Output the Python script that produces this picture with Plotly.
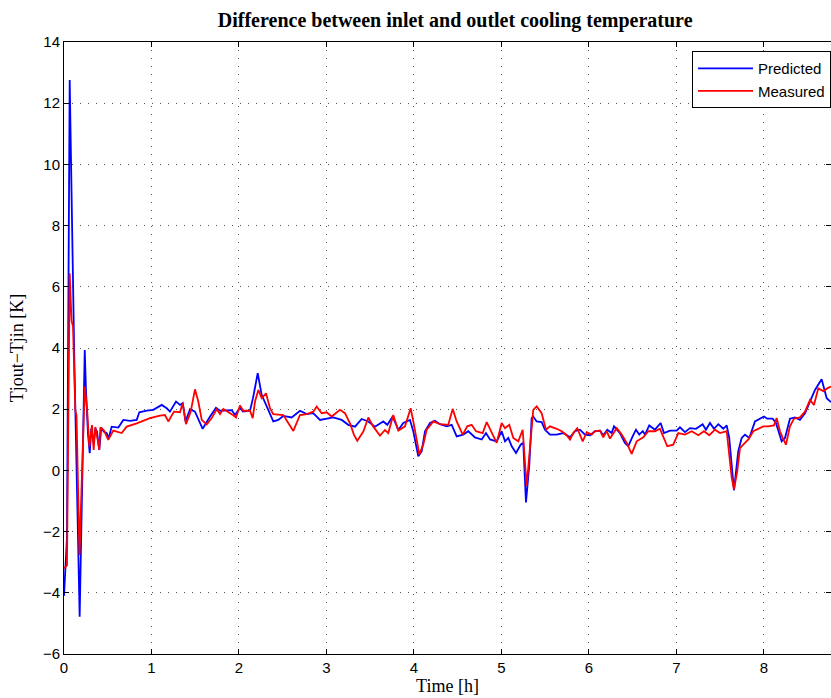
import plotly.graph_objects as go

# Predicted (blue) series: time [h], Tjout-Tjin [K]
pred_t = [0.000, 0.034, 0.065, 0.118, 0.179, 0.237, 0.251, 0.274, 0.294, 0.312, 0.339, 0.358, 0.377,
          0.403, 0.426, 0.454, 0.488, 0.511, 0.545, 0.621, 0.678, 0.754, 0.831, 0.861, 0.945, 1.021,
          1.117, 1.174, 1.211, 1.280, 1.326, 1.357, 1.389, 1.440, 1.497, 1.585, 1.669, 1.737, 1.783,
          1.917, 1.954, 2.011, 2.046, 2.126, 2.160, 2.214, 2.259, 2.317, 2.392, 2.449, 2.506, 2.602,
          2.697, 2.774, 2.849, 2.926, 3.002, 3.078, 3.174, 3.249, 3.326, 3.402, 3.478, 3.554, 3.649,
          3.695, 3.757, 3.821, 3.878, 3.954, 3.992, 4.049, 4.088, 4.126, 4.183, 4.240, 4.297, 4.374,
          4.431, 4.488, 4.563, 4.621, 4.697, 4.774, 4.823, 4.869, 4.945, 5.002, 5.040, 5.078, 5.117,
          5.166, 5.219, 5.249, 5.280, 5.318, 5.345, 5.363, 5.402, 5.459, 5.497, 5.554, 5.631, 5.706,
          5.783, 5.840, 5.897, 5.954, 6.011, 6.069, 6.126, 6.163, 6.209, 6.259, 6.286, 6.354, 6.411,
          6.449, 6.499, 6.537, 6.575, 6.614, 6.640, 6.689, 6.754, 6.819, 6.857, 6.926, 7.002, 7.040,
          7.097, 7.154, 7.223, 7.299, 7.337, 7.383, 7.429, 7.478, 7.535, 7.574, 7.603, 7.657, 7.706,
          7.745, 7.783, 7.832, 7.897, 7.962, 8.000, 8.038, 8.099, 8.137, 8.202, 8.240, 8.297, 8.354,
          8.411, 8.469, 8.526, 8.583, 8.659, 8.717, 8.766]
pred_v = [-4.10, -2.20, 12.76, 3.60, -4.78, 3.93, 2.63, 1.21, 0.56, 1.37, 0.88, 1.37, 1.27,
          0.67, 1.40, 1.27, 1.22, 1.05, 1.43, 1.40, 1.65, 1.62, 1.65, 1.90, 1.95, 1.98,
          2.14, 2.03, 1.92, 2.25, 2.14, 2.20, 1.60, 2.00, 1.92, 1.36, 1.76, 2.05, 1.95,
          1.97, 1.81, 2.05, 1.92, 1.95, 2.36, 3.18, 2.47, 2.09, 1.60, 1.65, 1.78, 1.73,
          1.95, 1.84, 1.87, 1.65, 1.68, 1.73, 1.65, 1.49, 1.43, 1.68, 1.60, 1.43, 1.60,
          1.49, 1.76, 1.32, 1.55, 1.65, 1.28, 0.46, 0.63, 1.28, 1.55, 1.62, 1.51, 1.44,
          1.49, 1.11, 1.17, 1.28, 1.08, 1.01, 1.22, 1.01, 0.95, 1.28, 0.95, 1.06, 0.79,
          0.57, 0.84, 0.90, -1.05, 0.19, 1.71, 1.76, 1.60, 1.58, 1.33, 1.17, 1.17, 1.22,
          1.08, 1.28, 1.33, 1.17, 1.15, 1.28, 1.30, 1.15, 1.33, 1.22, 1.44, 1.22, 0.90,
          0.79, 1.11, 1.33, 1.17, 1.28, 1.17, 1.47, 1.33, 1.55, 1.22, 1.30, 1.30, 1.41,
          1.25, 1.38, 1.36, 1.51, 1.33, 1.55, 1.36, 1.51, 1.36, 1.47, 1.06, -0.65, 0.63,
          1.06, 1.17, 1.06, 1.60, 1.69, 1.76, 1.69, 1.69, 1.55, 0.95, 1.06, 1.69, 1.73,
          1.65, 1.87, 2.25, 2.63, 2.98, 2.36, 2.23]

# Measured (red) series
meas_t = [0.000, 0.034, 0.065, 0.086, 0.103, 0.129, 0.143, 0.177, 0.237, 0.263, 0.289, 0.320, 0.339,
          0.358, 0.385, 0.403, 0.415, 0.454, 0.506, 0.563, 0.659, 0.717, 0.831, 0.983, 1.097, 1.154,
          1.192, 1.257, 1.326, 1.357, 1.394, 1.448, 1.497, 1.535, 1.574, 1.631, 1.688, 1.745, 1.783,
          1.821, 1.935, 1.966, 2.011, 2.049, 2.126, 2.157, 2.183, 2.221, 2.259, 2.309, 2.354, 2.392,
          2.506, 2.563, 2.621, 2.697, 2.774, 2.849, 2.888, 2.945, 3.002, 3.059, 3.154, 3.211, 3.269,
          3.314, 3.352, 3.421, 3.478, 3.535, 3.611, 3.669, 3.706, 3.763, 3.821, 3.897, 3.962, 4.000,
          4.061, 4.106, 4.145, 4.221, 4.297, 4.392, 4.442, 4.488, 4.557, 4.609, 4.659, 4.709, 4.785,
          4.831, 4.888, 4.945, 5.002, 5.040, 5.089, 5.135, 5.192, 5.242, 5.288, 5.326, 5.363, 5.402,
          5.459, 5.509, 5.554, 5.631, 5.688, 5.745, 5.783, 5.821, 5.866, 5.928, 5.974, 6.031, 6.069,
          6.126, 6.163, 6.202, 6.240, 6.317, 6.374, 6.431, 6.488, 6.545, 6.583, 6.621, 6.678, 6.754,
          6.811, 6.849, 6.895, 6.963, 7.021, 7.097, 7.174, 7.249, 7.314, 7.375, 7.440, 7.497, 7.574,
          7.631, 7.657, 7.695, 7.726, 7.763, 7.821, 7.878, 7.935, 7.992, 8.049, 8.114, 8.145, 8.183,
          8.214, 8.251, 8.297, 8.343, 8.411, 8.469, 8.526, 8.571, 8.621, 8.678, 8.723, 8.766]
meas_v = [-3.20, -3.10, 6.44, 4.90, 4.70, 1.97, 1.80, -2.76, 2.74, 2.03, 0.78, 1.48, 0.67,
          1.42, 0.99, 0.67, 1.40, 1.32, 1.00, 1.30, 1.22, 1.43, 1.54, 1.71, 1.79, 1.81,
          1.60, 1.92, 1.90, 2.20, 1.51, 1.92, 2.65, 2.25, 1.65, 1.50, 1.71, 2.00, 1.84,
          2.01, 1.80, 1.73, 2.12, 1.95, 1.95, 1.71, 2.25, 2.63, 2.36, 2.52, 2.03, 1.84,
          1.81, 1.54, 1.29, 1.81, 1.84, 1.92, 2.09, 1.87, 1.90, 1.76, 1.98, 1.87, 1.54,
          1.16, 0.97, 1.27, 1.73, 1.43, 1.14, 1.32, 1.22, 1.81, 1.30, 1.44, 2.03, 1.49,
          0.52, 0.84, 1.33, 1.60, 1.51, 1.49, 2.01, 1.60, 1.17, 1.44, 1.49, 1.28, 1.22,
          1.58, 1.22, 0.90, 1.55, 1.38, 1.49, 1.06, 0.95, 1.33, -0.51, 0.73, 1.98, 2.09,
          1.87, 1.33, 1.44, 1.36, 1.28, 1.15, 1.01, 1.22, 1.38, 0.95, 1.25, 1.17, 1.28,
          1.30, 1.08, 1.28, 1.04, 1.38, 1.17, 0.90, 0.54, 0.95, 1.01, 1.08, 1.28, 1.28,
          1.36, 1.11, 0.79, 0.84, 1.22, 1.17, 1.28, 1.15, 1.28, 1.15, 1.33, 1.22, 1.28,
          -0.24, -0.62, -0.02, 0.73, 0.84, 1.01, 1.28, 1.36, 1.44, 1.44, 1.47, 1.71, 1.28,
          1.06, 0.84, 1.44, 1.69, 1.73, 1.92, 2.30, 2.14, 2.68, 2.59, 2.68, 2.74]

x_ticks = [0, 1, 2, 3, 4, 5, 6, 7, 8]
y_ticks = [-6, -4, -2, 0, 2, 4, 6, 8, 10, 12, 14]

fig = go.Figure()
fig.add_trace(go.Scatter(x=pred_t, y=pred_v, mode="lines", name="Predicted",
                         line=dict(color="#0000ff", width=1.8)))
fig.add_trace(go.Scatter(x=meas_t, y=meas_v, mode="lines", name="Measured",
                         line=dict(color="#ff0000", width=1.8)))

axis_common = dict(
    showline=True, linecolor="black", linewidth=1, mirror="ticks",
    ticks="inside", ticklen=5, tickcolor="black",
    showgrid=True, gridcolor="#555555", griddash="1px,7px", gridwidth=1,
    zeroline=False,
    tickfont=dict(family="Liberation Sans", size=15, color="black"),
)

fig.update_layout(
    width=831, height=698,
    margin=dict(l=64, r=0, t=42, b=44),
    paper_bgcolor="white", plot_bgcolor="white",
    title=dict(text="<b>Difference between inlet and outlet cooling temperature</b>",
               x=0.51, xref="paper", xanchor="center",
               y=1 - 20 / 698, yref="container", yanchor="middle",
               font=dict(family="Liberation Serif", size=20, color="black")),
    xaxis=dict(range=[0, 8.766], tickvals=x_ticks,
               title=dict(text="Time [h]", standoff=2,
                          font=dict(family="Liberation Serif", size=18, color="black")),
               **axis_common),
    yaxis=dict(range=[-6, 14], tickvals=y_ticks,
               title=dict(text="Tjout\u2212Tjin [K]", standoff=14,
                          font=dict(family="Liberation Serif", size=18, color="black")),
               **axis_common),
    legend=dict(x=1, xanchor="right", y=0.985, yanchor="top",
                bgcolor="white", bordercolor="black", borderwidth=1,
                font=dict(family="Liberation Sans", size=15, color="black"),
                tracegroupgap=0, itemwidth=55),
    showlegend=True,
)

fig.write_html("out.html")
